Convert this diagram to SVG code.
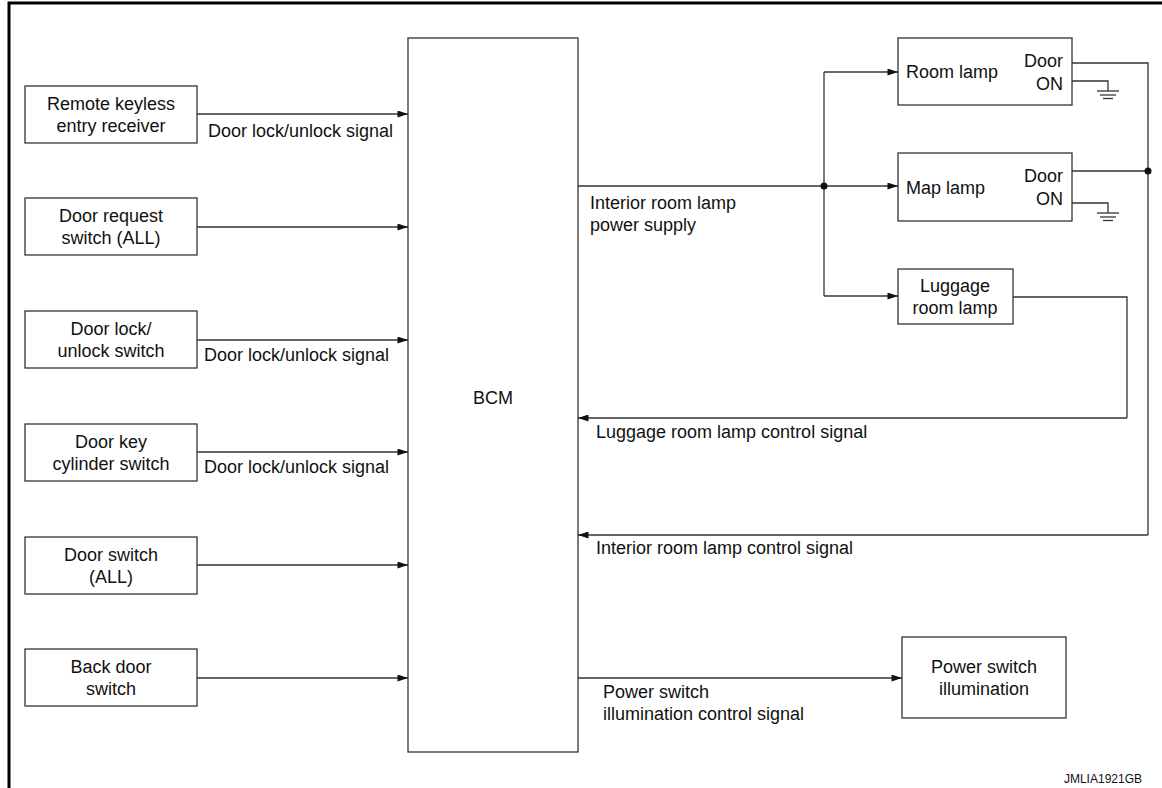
<svg xmlns="http://www.w3.org/2000/svg" width="1162" height="788" viewBox="0 0 1162 788">
<style>
text{font-family:"Liberation Sans",Arial,Helvetica,sans-serif;font-size:18px;fill:#111}
.c{text-anchor:middle}
.r{text-anchor:end}
.box{fill:#fff;stroke:#333;stroke-width:1.3}
.ln{fill:none;stroke:#333;stroke-width:1.3}
.ar{fill:none;stroke:#333;stroke-width:1.3;marker-end:url(#ah)}
.frame{fill:none;stroke:#000;stroke-width:3}
</style>
<defs>
<marker id="ah" viewBox="0 0 12 8" refX="12" refY="4" markerWidth="12" markerHeight="7" markerUnits="userSpaceOnUse" orient="auto">
<path d="M0,0 L12,4 L0,8 Z" fill="#111"/>
</marker>
</defs>
<rect width="1162" height="788" fill="#fff"/>
<path class="frame" d="M9,788 V3 H1162"/>

<g id="bcm"><rect class="box" x="408" y="38" width="170" height="714"/><text class="c" x="493" y="404">BCM</text></g>

<g id="remote-keyless"><rect class="box" x="25" y="86" width="172" height="57"/><text class="c" x="111" y="110">Remote keyless</text><text class="c" x="111" y="132">entry receiver</text></g>
<g id="door-request"><rect class="box" x="25" y="198" width="172" height="57"/><text class="c" x="111" y="222">Door request</text><text class="c" x="111" y="244">switch (ALL)</text></g>
<g id="door-lock-switch"><rect class="box" x="25" y="311" width="172" height="57"/><text class="c" x="111" y="335">Door lock/</text><text class="c" x="111" y="357">unlock switch</text></g>
<g id="door-key-cylinder"><rect class="box" x="25" y="424" width="172" height="57"/><text class="c" x="111" y="448">Door key</text><text class="c" x="111" y="470">cylinder switch</text></g>
<g id="door-switch"><rect class="box" x="25" y="537" width="172" height="57"/><text class="c" x="111" y="561">Door switch</text><text class="c" x="111" y="583">(ALL)</text></g>
<g id="back-door-switch"><rect class="box" x="25" y="649" width="172" height="57"/><text class="c" x="111" y="673">Back door</text><text class="c" x="111" y="695">switch</text></g>

<g id="room-lamp"><rect class="box" x="898" y="38" width="174" height="67"/><text x="906" y="78">Room lamp</text><text class="r" x="1063" y="67">Door</text><text class="r" x="1063" y="90">ON</text></g>
<g id="map-lamp"><rect class="box" x="898" y="153" width="174" height="68"/><text x="906" y="194">Map lamp</text><text class="r" x="1063" y="182">Door</text><text class="r" x="1063" y="205">ON</text></g>
<g id="luggage-room-lamp"><rect class="box" x="898" y="269" width="115" height="55"/><text class="c" x="955" y="292">Luggage</text><text class="c" x="955" y="314">room lamp</text></g>
<g id="power-switch-illumination"><rect class="box" x="902" y="637" width="164" height="81"/><text class="c" x="984" y="673">Power switch</text><text class="c" x="984" y="695">illumination</text></g>

<g id="connectors">
<line class="ar" x1="197" y1="114" x2="408" y2="114"/>
<line class="ar" x1="197" y1="227" x2="408" y2="227"/>
<line class="ar" x1="197" y1="340" x2="408" y2="340"/>
<line class="ar" x1="197" y1="452" x2="408" y2="452"/>
<line class="ar" x1="197" y1="565" x2="408" y2="565"/>
<line class="ar" x1="197" y1="678" x2="408" y2="678"/>
<text x="208" y="137">Door lock/unlock signal</text>
<text x="204" y="361">Door lock/unlock signal</text>
<text x="204" y="473">Door lock/unlock signal</text>

<line class="ar" x1="578" y1="186" x2="898" y2="186"/>
<line class="ln" x1="824" y1="72" x2="824" y2="296"/>
<line class="ar" x1="824" y1="72" x2="898" y2="72"/>
<line class="ar" x1="824" y1="296" x2="898" y2="296"/>
<circle cx="824" cy="186" r="3.5" fill="#111"/>
<text x="590" y="209">Interior room lamp</text>
<text x="590" y="231">power supply</text>

<polyline class="ln" points="1072,63 1148,63 1148,535"/>
<line class="ln" x1="1072" y1="171" x2="1148" y2="171"/>
<circle cx="1148" cy="171" r="3.5" fill="#111"/>
<line class="ar" x1="1148" y1="535" x2="578" y2="535"/>
<text x="596" y="554">Interior room lamp control signal</text>

<polyline class="ln" points="1072,81 1108,81 1108,91"/>
<line class="ln" x1="1097" y1="91" x2="1119" y2="91"/>
<line class="ln" x1="1100" y1="95" x2="1116" y2="95"/>
<line class="ln" x1="1103" y1="98.5" x2="1113" y2="98.5"/>
<polyline class="ln" points="1072,203 1108,203 1108,213"/>
<line class="ln" x1="1097" y1="213" x2="1119" y2="213"/>
<line class="ln" x1="1100" y1="217" x2="1116" y2="217"/>
<line class="ln" x1="1103" y1="220.5" x2="1113" y2="220.5"/>

<polyline class="ln" points="1013,297 1127,297 1127,418"/>
<line class="ar" x1="1127" y1="418" x2="578" y2="418"/>
<text x="596" y="438">Luggage room lamp control signal</text>

<line class="ar" x1="578" y1="678" x2="902" y2="678"/>
<text x="603" y="698">Power switch</text>
<text x="603" y="720">illumination control signal</text>
</g>
<text class="r" x="1142" y="783" style="font-size:12px">JMLIA1921GB</text>
</svg>
